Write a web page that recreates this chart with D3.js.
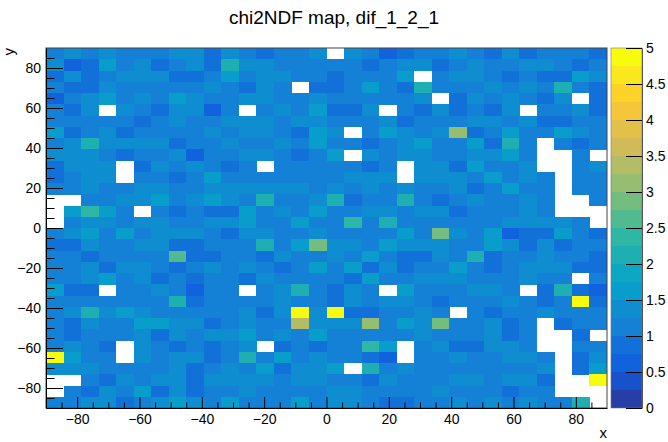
<!DOCTYPE html>
<html>
<head>
<meta charset="utf-8">
<script src="https://cdn.jsdelivr.net/npm/d3@7"></script>
<style>
  body { margin: 0; background: #fff; }
  svg { display: block; font-family: "Liberation Sans", Arial, Helvetica, sans-serif; }
</style>
</head>
<body>
<svg id="chart" width="668" height="442"></svg>
<script>
const title = "chi2NDF map, dif_1_2_1";
const xLimits = [-90, 90];
const yLimits = [-90, 90];
const zLimits = [0, 5];
const nContours = 20;
const xTicks = [-80, -60, -40, -20, 0, 20, 40, 60, 80];
const yTicks = [-80, -60, -40, -20, 0, 20, 40, 60, 80];
const zTicks = [0, 0.5, 1, 1.5, 2, 2.5, 3, 3.5, 4, 4.5, 5];

// ROOT kBird palette
const birdStops = [0.0, 0.125, 0.25, 0.375, 0.5, 0.625, 0.75, 0.875, 1.0];
const birdRed   = [0.2082, 0.0592, 0.0780, 0.0232, 0.1802, 0.5301, 0.8186, 0.9956, 0.9764];
const birdGreen = [0.1664, 0.3599, 0.5041, 0.6419, 0.7178, 0.7492, 0.7328, 0.7862, 0.9832];
const birdBlue  = [0.5293, 0.8684, 0.8385, 0.7914, 0.6425, 0.4662, 0.3499, 0.1968, 0.0539];

// chi2/NDF per bin: rows from top (y = 90) to bottom (y = -90),
// columns from x = -90 to x = 90. 0 = empty bin (not drawn)
const chi2NDF = [
  [1.1,1.4,1.1,1.4,1.1,1.1,1.1,1.4,1.4,0.9,1.4,1.1,0.9,1.1,1.1,1.4, 0,1.4,1.1,0.7,0.9,1.1,1.1,1.4,1.1,0.9,1.4,0.9,1.1,1.1,1.1,0.9],
  [1.4,0.7,0.9,1.6,1.1,1.4,0.9,1.1,1.4,0.9,2.1,1.4,1.4,1.1,1.1,1.1, 1.1,1.1,0.9,1.1,1.4,1.4,0.9,1.1,1.4,1.1,1.1,1.4,1.4,1.1,0.9,1.1],
  [0.9,1.4,0.9,1.1,1.4,1.4,1.4,0.9,0.9,1.1,1.6,1.1,1.4,1.4,1.1,1.1, 0.9,1.1,1.1,1.1,1.6,0,1.1,1.4,1.4,1.1,0.9,1.1,0.9,0.9,1.6,1.4],
  [1.1,0.9,0.9,1.4,1.1,1.1,1.1,1.1,1.1,1.4,1.1,0.9,1.4,1.1,0,0.9, 0.9,1.1,1.6,1.1,0.9,2.1,1.1,1.1,1.1,1.4,1.1,1.4,1.1,2.1,1.1,0.9],
  [0.7,1.1,1.4,1.6,1.1,1.4,1.1,1.6,1.4,1.1,1.1,1.4,1.4,1.1,1.1,1.4, 1.1,1.1,1.1,1.1,1.1,1.4,0,0.9,1.4,1.1,1.4,1.1,0.9,1.4,0,0.9],
  [1.1,0.9,1.4,0,1.4,1.1,0.9,1.4,1.4,0.7,1.1,0,1.1,1.4,1.1,1.6, 0.9,0.9,1.4,0,1.1,0.9,1.4,0.9,1.1,0.9,1.4,0,1.1,1.1,1.4,0.9],
  [1.1,1.1,1.1,1.1,1.1,0.9,1.1,1.4,1.1,1.1,1.4,1.4,1.4,1.1,1.4,1.4, 1.1,1.1,1.1,1.4,0.9,1.1,1.1,1.1,1.4,1.4,1.1,1.4,0.9,0.9,1.1,1.1],
  [1.6,0.9,1.1,1.4,0.9,1.1,1.1,1.1,1.1,1.4,1.1,1.4,1.4,1.1,0.9,1.6, 1.4,0,1.1,1.6,1.4,1.1,1.4,3.2,0.9,1.1,1.6,1.1,1.1,1.6,1.4,1.1],
  [1.1,1.4,2.1,1.4,1.4,1.4,1.4,0.9,1.1,1.1,1.4,1.1,1.1,1.4,1.1,1.6, 1.1,1.1,0.9,1.1,1.4,1.6,1.1,1.1,1.6,0.9,2.1,1.1,0,1.1,0.9,1.1],
  [1.4,1.4,1.4,1.1,0.9,1.1,1.1,1.4,0.7,1.1,1.1,1.4,1.4,1.1,0.9,1.1, 1.6,0,1.4,1.1,1.4,1.4,1.1,1.1,1.4,1.4,1.6,1.1,0,0,1.1,0],
  [0.9,1.4,1.4,1.4,0,0.9,1.4,1.1,1.4,1.1,0.9,1.1,0,1.1,1.1,1.1, 1.1,1.1,0.9,1.1,0,1.4,1.4,0.9,1.6,1.1,1.1,1.4,0,0,1.1,1.4],
  [0.9,1.1,1.4,1.4,0,1.1,1.1,0.9,1.1,1.6,1.1,1.1,1.1,1.1,1.1,1.1, 1.1,1.4,1.4,1.4,0,1.4,1.4,1.4,1.1,1.6,1.1,1.4,1.1,0,1.1,1.1],
  [1.1,1.1,1.4,1.1,1.1,1.4,1.4,1.1,1.1,1.4,1.4,1.4,1.4,1.4,1.4,1.1, 1.4,1.1,1.4,1.1,1.4,1.1,1.1,1.4,0.9,1.1,1.6,1.1,1.1,0,1.1,1.1],
  [0,0,1.1,1.1,1.4,1.4,1.6,1.1,1.4,1.6,1.4,1.1,2.1,1.1,1.1,1.4, 2.1,0.9,1.1,1.1,2.1,1.1,0.9,1.1,1.4,1.1,1.1,1.4,1.1,0,0,1.1],
  [0,1.6,2.4,1.6,1.1,0,1.1,0.9,1.1,0.9,0.9,1.6,1.1,1.4,1.1,1.6, 1.1,1.1,1.4,1.4,1.1,1.4,1.4,0.9,1.1,1.1,1.1,1.4,1.1,0,0,0],
  [0,1.1,1.4,1.4,1.1,1.4,1.4,1.1,1.1,1.4,1.4,1.6,1.1,1.1,1.6,1.1, 1.1,2.4,1.1,2.1,1.1,1.1,1.1,1.1,1.1,1.1,1.4,1.4,1.4,1.4,1.1,0],
  [1.1,1.4,1.6,1.1,1.6,1.1,1.4,1.4,1.4,1.1,0.9,1.4,1.4,1.1,1.1,1.4, 1.1,1.1,1.1,1.1,1.6,1.1,2.8,1.4,1.1,1.6,0.7,0.9,0.9,1.6,1.1,0.9],
  [0.9,0.9,1.4,1.1,1.1,1.4,1.4,0.9,0.9,1.1,1.1,1.1,2.1,1.1,1.6,2.8, 1.4,1.4,1.1,1.6,1.4,1.4,1.4,1.1,1.1,1.6,1.4,0.9,1.4,0.9,1.1,1.1],
  [1.1,1.1,0.9,1.1,1.1,1.1,1.1,2.6,0.9,0.9,1.1,1.1,0.9,1.4,1.1,1.1, 1.4,1.1,1.6,1.1,0.9,0.9,1.4,1.1,2.1,0.9,1.1,1.1,1.4,1.1,1.1,0.9],
  [1.1,1.1,1.4,0.9,1.4,1.4,1.1,0.9,1.1,1.4,1.1,1.4,1.1,0.9,1.1,1.6, 1.1,1.6,0.9,1.4,0.9,1.1,1.1,1.6,1.1,0.9,1.1,1.4,1.4,1.4,0.9,0.9],
  [1.1,1.1,1.4,1.6,1.1,1.4,0.9,1.1,0.9,1.1,1.1,0.9,1.4,1.1,1.1,1.1, 1.1,0.9,1.6,1.1,1.1,1.4,1.4,1.4,1.1,1.1,1.1,1.4,1.1,1.1,0,1.1],
  [1.6,0.9,0.9,0,1.1,1.1,1.4,1.1,0.7,1.1,1.1,0,1.1,1.4,2.1,1.1, 0.9,1.4,1.1,0,1.6,1.1,1.1,1.1,1.4,1.4,1.1,0,0.9,2.1,0.9,0.7],
  [1.1,1.1,1.1,1.1,1.1,1.1,1.1,2.1,0.9,1.1,1.1,1.1,1.1,1.4,1.1,1.1, 0.9,1.4,1.1,1.4,1.4,1.1,0.9,1.1,1.1,1.1,1.4,1.1,0.9,1.1,4.9,0.9],
  [1.1,1.4,2.1,1.4,1.6,1.4,1.1,1.1,1.1,1.1,1.1,1.4,0.9,1.4,4.9,1.4, 4.9,0.9,0.9,1.1,1.1,1.4,1.1,0,1.1,0.9,1.1,1.1,1.4,1.1,1.1,1.1],
  [1.1,0.9,1.4,1.1,1.1,1.6,1.6,1.4,1.4,0.9,1.1,1.4,1.1,1.1,3.4,1.4, 1.4,1.4,3.2,1.1,1.6,1.4,2.8,1.1,1.1,1.4,0.9,1.1,0,0.9,1.1,1.1],
  [1.1,0.9,1.1,1.1,1.1,1.4,0.9,1.4,1.1,1.4,1.4,1.6,1.1,1.4,1.1,1.6, 1.1,1.1,1.1,1.1,1.1,1.4,1.1,1.1,1.1,1.4,0.9,1.1,0,0,0.9,0],
  [1.1,1.4,1.1,0.9,0,1.4,1.1,0.9,1.1,0.9,1.1,1.4,0,0.9,1.1,0.9, 1.1,1.1,2.4,1.6,0,1.1,1.4,0.9,0.9,1.4,1.4,1.1,0,0,1.1,1.1],
  [4.9,1.6,1.1,1.1,0,1.4,1.1,1.4,1.4,0.9,1.1,2.1,1.1,1.6,1.1,1.4, 1.1,1.1,0.9,0.7,0,1.1,1.1,1.4,1.1,1.1,1.4,1.4,1.1,0,0.9,1.4],
  [1.4,1.4,1.4,1.1,1.1,1.1,1.1,1.4,0.9,1.1,1.4,1.1,1.6,0.9,1.4,1.4, 1.6,0,2.1,1.1,1.4,1.1,1.1,1.1,1.1,1.1,1.1,1.1,1.4,0,0.9,1.6],
  [0,0,1.1,0.9,1.4,1.1,1.4,1.4,0.9,1.4,1.4,1.4,1.4,1.1,1.4,1.4, 1.1,1.1,0.9,1.4,1.1,1.1,1.1,1.4,1.4,1.1,1.4,1.4,0.9,0,0,4.9],
  [0,1.1,0.9,1.4,1.1,1.6,0.9,1.4,0.9,1.1,1.1,1.4,1.1,1.1,1.1,1.1, 1.4,1.4,1.1,1.1,1.1,1.1,1.4,1.1,1.1,1.1,0.9,1.1,1.1,0,0,0],
  [1.1,1.1,1.4,1.4,0.9,1.1,1.4,1.6,1.4,1.1,1.6,1.1,1.1,1.1,1.6,1.1, 1.4,1.4,1.1,0.9,0.9,1.1,1.1,1.4,1.1,1.4,1.1,1.4,1.1,1.1,2.1,0]
];

const nBinsY = chi2NDF.length;
const nBinsX = chi2NDF[0].length;

// frame / pad geometry
const frame = { left: 46, right: 607, top: 48, bottom: 408 };
const palette = { left: 611, right: 642 };
const labelSize = "14px";

const svg = d3.select("#chart");

const x = d3.scaleLinear().domain(xLimits).range([frame.left, frame.right]);
const y = d3.scaleLinear().domain(yLimits).range([frame.bottom, frame.top]);
const z = d3.scaleLinear().domain(zLimits).range([frame.bottom, frame.top]);

// palette colour for each contour level (same picking rule as THistPainter)
const bird = d3.scaleLinear()
    .domain(birdStops)
    .range(birdStops.map((s, i) => d3.rgb(birdRed[i] * 255, birdGreen[i] * 255, birdBlue[i] * 255)))
    .interpolate(d3.interpolateRgb);
const levelColors = d3.range(nContours).map(k => bird(Math.floor((k + 0.99) * 255 / nContours) / 254));
const level = d3.scaleQuantize().domain(zLimits).range(d3.range(nContours));

// bins
const dx = (xLimits[1] - xLimits[0]) / nBinsX;
const dy = (yLimits[1] - yLimits[0]) / nBinsY;
const cells = [];
chi2NDF.forEach((row, r) => row.forEach((v, c) => {
    if (v > 0) cells.push({
        x0: xLimits[0] + c * dx,
        y1: yLimits[1] - r * dy,
        v: v
    });
}));

svg.append("g")
    .selectAll("rect")
    .data(cells)
    .enter()
    .append("rect")
    .attr("x", d => x(d.x0))
    .attr("y", d => y(d.y1))
    .attr("width", d => x(d.x0 + dx) - x(d.x0) + 0.3)
    .attr("height", d => y(d.y1 - dy) - y(d.y1) + 0.3)
    .attr("fill", d => levelColors[level(Math.min(d.v, zLimits[1]))])
    .attr("shape-rendering", "crispEdges");

// frame
svg.append("rect")
    .attr("x", frame.left)
    .attr("y", frame.top)
    .attr("width", frame.right - frame.left)
    .attr("height", frame.bottom - frame.top)
    .attr("fill", "none")
    .attr("stroke", "#444")
    .attr("stroke-width", 1);

// minor ticks (every 5 units)
const minorX = d3.range(-85, 90, 5).filter(v => !xTicks.includes(v));
const minorY = d3.range(-85, 90, 5).filter(v => !yTicks.includes(v));

svg.append("g")
    .attr("transform", `translate(0,${frame.bottom})`)
    .call(d3.axisBottom(x).tickValues(minorX).tickSize(-5.5).tickSizeOuter(0).tickFormat(""))
    .call(g => g.select(".domain").remove());

svg.append("g")
    .attr("transform", `translate(${frame.left},0)`)
    .call(d3.axisLeft(y).tickValues(minorY).tickSize(-8.5).tickSizeOuter(0).tickFormat(""))
    .call(g => g.select(".domain").remove());

// major ticks + labels
const xAxis = svg.append("g")
    .attr("transform", `translate(0,${frame.bottom})`)
    .call(d3.axisBottom(x).tickValues(xTicks).tickSize(-11).tickSizeOuter(0).tickPadding(6));

const yAxis = svg.append("g")
    .attr("transform", `translate(${frame.left},0)`)
    .call(d3.axisLeft(y).tickValues(yTicks).tickSize(-17).tickSizeOuter(0).tickPadding(5));

[xAxis, yAxis].forEach(g => {
    g.selectAll("text").style("font-size", labelSize).attr("fill", "#000")
        .style("font-family", "'Liberation Sans', Arial, sans-serif");
    g.select(".domain").attr("stroke", "#000");
});

// axis titles
svg.append("text")
    .attr("x", frame.right)
    .attr("y", 438)
    .attr("text-anchor", "end")
    .style("font-size", "15px")
    .text("x");

svg.append("text")
    .attr("transform", `translate(14,${frame.top}) rotate(-90)`)
    .attr("text-anchor", "end")
    .style("font-size", "15px")
    .text("y");

// title
svg.append("text")
    .attr("x", 334)
    .attr("y", 24)
    .attr("text-anchor", "middle")
    .style("font-size", "19px")
    .text(title);

// colour palette
const bands = d3.range(nContours).map(k => ({
    lo: zLimits[0] + k * (zLimits[1] - zLimits[0]) / nContours,
    hi: zLimits[0] + (k + 1) * (zLimits[1] - zLimits[0]) / nContours,
    k: k
}));

svg.append("g")
    .selectAll("rect")
    .data(bands)
    .enter()
    .append("rect")
    .attr("x", palette.left)
    .attr("y", d => z(d.hi))
    .attr("width", palette.right - palette.left)
    .attr("height", d => z(d.lo) - z(d.hi) + 0.3)
    .attr("fill", d => levelColors[d.k])
    .attr("shape-rendering", "crispEdges");

svg.append("rect")
    .attr("x", palette.left)
    .attr("y", frame.top)
    .attr("width", palette.right - palette.left)
    .attr("height", frame.bottom - frame.top)
    .attr("fill", "none")
    .attr("stroke", "#777")
    .attr("stroke-width", 0.6);

const zAxis = svg.append("g")
    .attr("transform", `translate(${palette.right},0)`)
    .call(d3.axisRight(z).tickValues(zTicks).tickSize(-16).tickSizeOuter(0).tickPadding(4)
        .tickFormat(d3.format("~g")));
zAxis.selectAll("text").style("font-size", labelSize).attr("fill", "#000")
    .style("font-family", "'Liberation Sans', Arial, sans-serif");
zAxis.select(".domain").attr("stroke", "#555");
</script>
</body>
</html>
